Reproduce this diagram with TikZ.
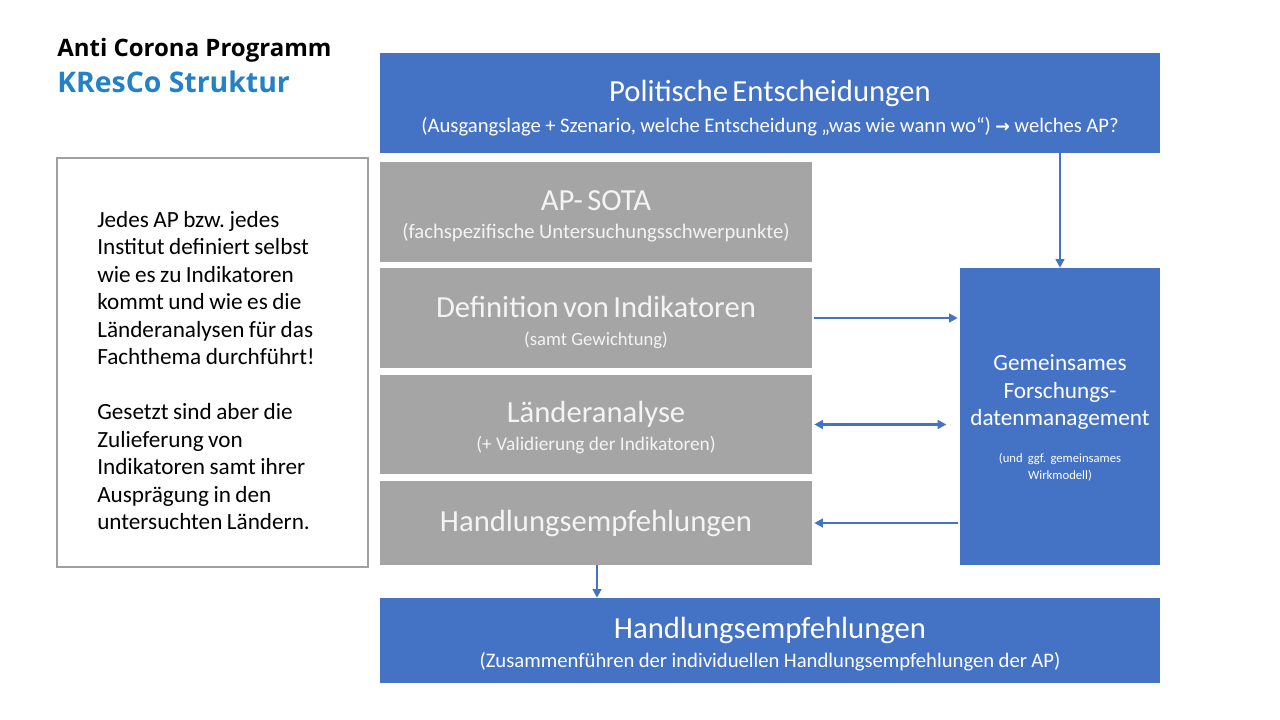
\documentclass[tikz,border=0pt]{standalone}
\usepackage{fontspec}
\setmainfont{Carlito}
\newfontfamily\titlefont{Open Sans}
\newfontfamily\symfont{DejaVu Sans}
\usetikzlibrary{arrows.meta}
\definecolor{pblue}{HTML}{4472C4}
\definecolor{pgray}{HTML}{A5A5A5}
\definecolor{tblue}{HTML}{2382C5}
\definecolor{ltext}{HTML}{F4F4F4}
\definecolor{lborder}{HTML}{A0A0A0}
\newcommand{\mainl}[1]{{\fontsize{23}{28}\selectfont #1\par}}
\newcommand{\subl}[2][22]{{\fontsize{15.5}{#1}\selectfont #2\par}}
\begin{document}
\frenchspacing
\begin{tikzpicture}[x=0.75pt,y=-0.75pt,
  bluebox/.style={fill=pblue,draw=none,text=white,align=center,inner sep=0pt},
  graybox/.style={fill=pgray,draw=none,text=ltext,align=center,inner sep=0pt},
  arr/.style={draw=pblue,line width=1.7pt,-{Triangle[length=6.5pt,width=6.5pt]}},
  darr/.style={draw=pblue,line width=1.7pt,{Triangle[length=6.5pt,width=6.5pt]}-{Triangle[length=6.5pt,width=6.5pt]}}
]
\useasboundingbox (0,0) rectangle (1280,720);
\fill[white] (0,0) rectangle (1280,720);

% title
\node[anchor=base west,inner sep=0pt] (title1) at (57,57)
  {\titlefont\bfseries\fontsize{18}{22}\selectfont Anti Corona Programm};
\node[anchor=base west,inner sep=0pt,text=tblue] (title2) at (57,93)
  {\titlefont\bfseries\fontsize{21.3}{26}\selectfont KResCo Struktur};

% top box
\node[bluebox,minimum width=585pt,minimum height=75pt] (top) at (770,103) {};
\node[align=center,text=white,inner sep=0pt,text width=580pt] (toptxt) at (770,108)
  {\mainl{Politische Entscheidungen}
   \subl[23]{(Ausgangslage + Szenario, welche Entscheidung „was wie wann wo“) {\symfont\bfseries\fontsize{13}{14}\selectfont →} welches AP?}};

% gray boxes
\node[graybox,minimum width=324pt,minimum height=75pt] (sota) at (596,212) {};
\node[align=center,text=ltext,inner sep=0pt,text width=320pt] (sotatxt) at (596,216)
  {\mainl{AP- SOTA}\subl[21]{(fachspezifische Untersuchungsschwerpunkte)}};
\node[graybox,minimum width=324pt,minimum height=75pt] (def) at (596,318) {};
\node[align=center,text=ltext,inner sep=0pt,text width=320pt] (deftxt) at (596,322)
  {\mainl{Definition von Indikatoren}{\fontsize{14}{21}\selectfont (samt Gewichtung)\par}};
\node[graybox,minimum width=324pt,minimum height=74.25pt] (land) at (596,424.5) {};
\node[align=center,text=ltext,inner sep=0pt,text width=320pt] (landtxt) at (596,428)
  {\mainl{Länderanalyse}{\fontsize{14.5}{21}\selectfont (+ Validierung der Indikatoren)\par}};
\node[graybox,minimum width=324pt,minimum height=63pt] (hg) at (596,523)
  {\fontsize{23}{28}\selectfont Handlungsempfehlungen};

% right box
\node[bluebox,minimum width=150pt,minimum height=222.75pt] (rbox) at (1060,416.5) {};
\node[align=center,text=white,inner sep=0pt,text width=148pt] (rtxt) at (1060,418)
  {{\fontsize{17.4}{20.6}\selectfont Gemeinsames\\ Forschungs-\\ datenmanagement\par}
   {\fontsize{9.5}{28}\selectfont (und\hspace{0.4em}ggf. gemeinsames\par}
   {\fontsize{9.5}{12.5}\selectfont Wirkmodell)\par}};

% bottom box
\node[bluebox,minimum width=585pt,minimum height=63.75pt] (bot) at (770,640.5) {};
\node[align=center,text=white,inner sep=0pt,text width=580pt] (bottxt) at (770,644)
  {\mainl{Handlungsempfehlungen}\subl[21.5]{(Zusammenführen der individuellen Handlungsempfehlungen der AP)}};

% left box
\node[draw=lborder,line width=1pt,fill=white,minimum width=233.25pt,minimum height=306.75pt,inner sep=0pt] (lbox) at (212.5,362.5) {};
\node[anchor=north west,inner sep=0pt,align=left,text width=200pt] (ltxt) at (97,211)
  {\fontsize{17.4}{20.6}\selectfont Jedes AP bzw. jedes\\ Institut definiert selbst\\ wie es zu Indikatoren\\ kommt und wie es die\\ Länderanalysen für das\\ Fachthema durchführt!\par\vspace{20.6pt}
   Gesetzt sind aber die\\ Zulieferung von\\ Indikatoren samt ihrer\\ Ausprägung in den\\ untersuchten Ländern.\par};

% connectors
\draw[arr] (top.south -| rbox.north) -- (rbox.north);
\draw[arr,shorten >=1.5pt,shorten <=1.5pt] (def.east) -- (def.east -| rbox.west);
\draw[darr,shorten <=1.5pt,shorten >=10pt] (land.east) -- (land.east -| rbox.west);
\draw[arr,shorten >=1.5pt,shorten <=1.5pt] (hg.east -| rbox.west) -- (hg.east);
\draw[arr] (hg.south -| 597,0) -- (bot.north -| 597,0);
\end{tikzpicture}
\end{document}
